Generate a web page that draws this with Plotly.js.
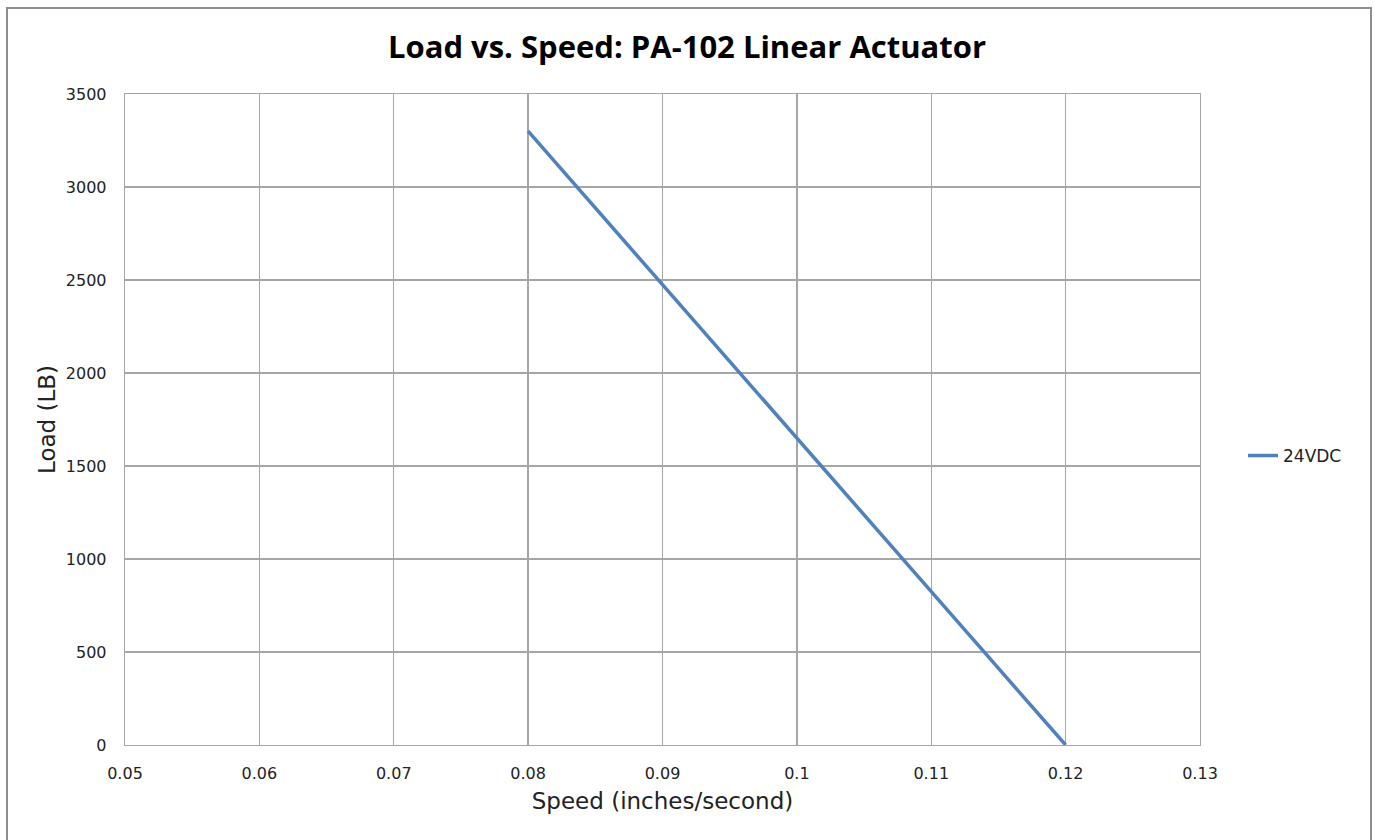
<!DOCTYPE html>
<html>
<head>
<meta charset="utf-8">
<script src="https://cdn.plot.ly/plotly-3.0.1.min.js"></script>
<style>
html,body{margin:0;padding:0;background:#fff;}
#wrap{position:relative;width:1374px;height:840px;overflow:hidden;}
#chart{position:absolute;left:0;top:0;width:1374px;height:840px;}
#frame{position:absolute;left:6px;top:7px;width:1362px;height:860px;border:2px solid #8c8c8c;pointer-events:none;}
</style>
</head>
<body>
<div id="wrap"><div id="chart"></div><div id="frame"></div></div>
<script>
const speed = [0.08, 0.09, 0.10, 0.11, 0.12];
const load = [3300, 2475, 1650, 825, 0];
const seriesName = '24VDC';
const xTicks = [0.05, 0.06, 0.07, 0.08, 0.09, 0.10, 0.11, 0.12, 0.13];
const xTickText = ['0.05', '0.06', '0.07', '0.08', '0.09', '0.1', '0.11', '0.12', '0.13'];
const yTicks = [0, 500, 1000, 1500, 2000, 2500, 3000, 3500];

const titleFont = 'Open Sans, sans-serif';
const font = 'DejaVu Sans, Verdana, sans-serif';
const trace = {
  x: speed, y: load, name: seriesName, type: 'scatter', mode: 'lines',
  line: {color: '#4f81bd', width: 3.5}
};
const layout = {
  width: 1374, height: 840,
  margin: {l: 125, r: 174, t: 94, b: 95},
  paper_bgcolor: '#fff', plot_bgcolor: '#fff',
  title: {text: '<b>Load vs. Speed: PA-102 Linear Actuator</b>', x: 0.5, xref: 'container', xanchor: 'center', y: 0.944, yref: 'container', yanchor: 'middle',
    font: {family: titleFont, size: 31, color: '#000'}},
  xaxis: {range: [0.05, 0.13], tickvals: xTicks, ticktext: xTickText, showgrid: true, gridcolor: '#a6a6a6', gridwidth: 1.3,
    zeroline: false, showline: true, linecolor: '#a6a6a6', linewidth: 1.3, mirror: true, ticks: '', ticklabelstandoff: 13,
    tickfont: {family: font, size: 16, color: '#222'},
    title: {text: 'Speed (inches/second)', font: {family: font, size: 23, color: '#222'}, standoff: 11}},
  yaxis: {range: [0, 3500], tickvals: yTicks, showgrid: true, gridcolor: '#a6a6a6', gridwidth: 1.3,
    zeroline: false, showline: true, linecolor: '#a6a6a6', linewidth: 1.3, mirror: true, ticks: '', ticklabelstandoff: 14,
    tickfont: {family: font, size: 16, color: '#222'},
    title: {text: 'Load (LB)', font: {family: font, size: 23, color: '#222'}, standoff: 3}},
  showlegend: true,
  legend: {x: 1.04, xanchor: 'left', y: 0.444, yanchor: 'middle', font: {family: font, size: 17, color: '#222'},
    bgcolor: 'rgba(0,0,0,0)', itemwidth: 30},
};
Plotly.newPlot('chart', [trace], layout, {displayModeBar: false, staticPlot: true});
</script>
</body>
</html>
